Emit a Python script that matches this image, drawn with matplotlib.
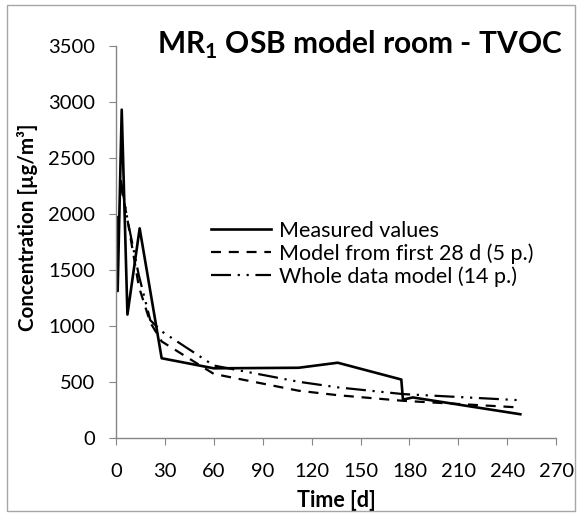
import matplotlib
matplotlib.use('Agg')
import matplotlib.pyplot as plt
from matplotlib.patches import Rectangle

plt.rcParams['font.family'] = ['Lato', 'DejaVu Sans']
plt.rcParams['mathtext.fontset'] = 'custom'
plt.rcParams['mathtext.rm'] = 'Lato'
plt.rcParams['mathtext.bf'] = 'Lato:bold'

# izmjerene vrijednosti
t_meas = [0.5, 1, 3.5, 7, 14.5, 28, 60, 112, 136, 175, 176, 182, 248]
c_meas = [1970, 1310, 2930, 1100, 1870, 710, 620, 625, 670, 520, 340, 360, 210]

# model iz prvih 28 dana
t_mod28 = [3, 7, 14, 21, 28, 60, 112, 136, 176, 248]
c_mod28 = [2250, 1950, 1350, 1030, 860, 570, 420, 380, 330, 270]

# model iz svih podataka
t_modall = [3, 7, 14, 21, 28, 60, 112, 136, 176, 248]
c_modall = [2300, 1950, 1450, 1050, 950, 645, 500, 450, 390, 335]

x_ticks = list(range(0, 271, 30))
y_ticks = list(range(0, 3501, 500))

fig = plt.figure(figsize=(5.83, 5.15), dpi=100)
ax = fig.add_axes([0.199, 0.150, 0.755, 0.761])

ax.plot(t_meas, c_meas, color='black', lw=1.9, label='Measured values')
ax.plot(t_mod28, c_mod28, color='black', lw=1.6, ls=(0, (4.5, 3.5)),
        label='Model from first 28 d (5 p.)')
ax.plot(t_modall, c_modall, color='black', lw=1.6, ls=(0, (9, 3, 1, 3, 1, 3)),
        label='Whole data model (14 p.)')

ax.set_xlim(0, 270)
ax.set_ylim(0, 3500)
ax.set_xticks(x_ticks)
ax.set_yticks(y_ticks)
for s in ['top', 'right']:
    ax.spines[s].set_visible(False)
for s in ['left', 'bottom']:
    ax.spines[s].set_color('#868686')
    ax.spines[s].set_linewidth(1.0)
ax.tick_params(direction='out', length=5, color='#868686', labelsize=14.5)
ax.tick_params(axis='x', pad=13.5)
ax.tick_params(axis='y', pad=10)

ax.set_xlabel('Time [d]', fontsize=15.5, fontweight='bold', labelpad=7)
ax.set_ylabel('Concentration [µg/m³]', fontsize=14.8, fontweight='bold')
ax.yaxis.set_label_coords(-0.178, 0.536)

fig.text(0.617, 0.912, r'MR$_\mathbf{1}$ OSB model room - TVOC', ha='center', va='center',
         fontsize=21.5, fontweight='bold')

ax.legend(loc='upper left', bbox_to_anchor=(0.196, 0.575), frameon=False, fontsize=15.5,
          handlelength=2.8, handletextpad=0.37, labelspacing=0.1, borderaxespad=0)

fig.patches.append(Rectangle((0.012, 0.008), 0.975, 0.982, transform=fig.transFigure,
                             fill=False, edgecolor='#a6a6a6', lw=1.0))

fig.savefig('out.png', dpi=100)
